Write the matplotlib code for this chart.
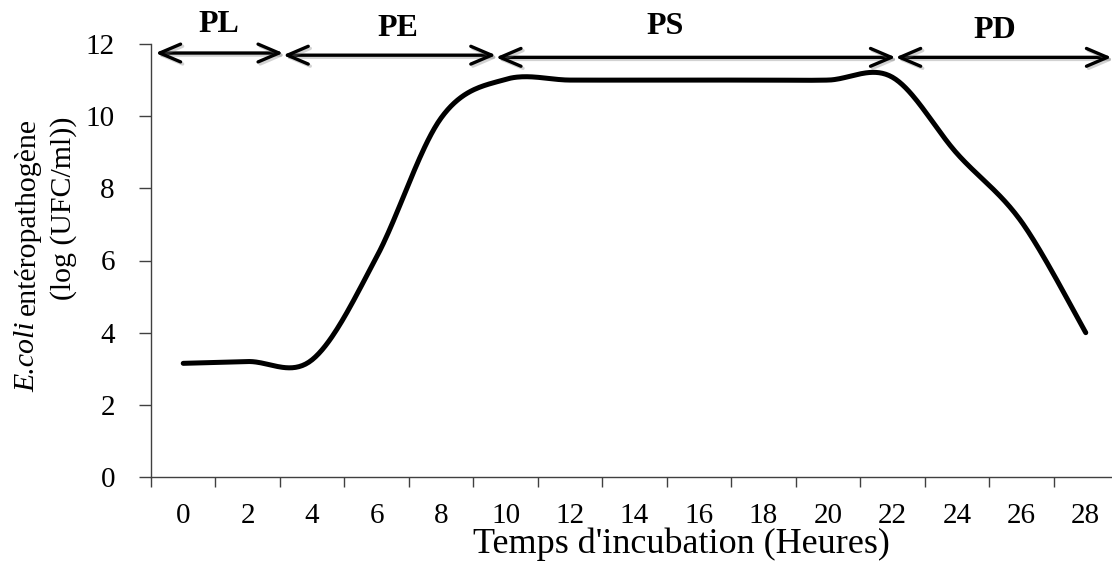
import numpy as np
import matplotlib
matplotlib.use("Agg")
import matplotlib.pyplot as plt
import matplotlib.patheffects as pe

# E. coli growth curve (log UFC/ml) read every 2 hours
hours = [0, 2, 4, 6, 8, 10, 12, 14, 16, 18, 20, 22, 24, 26, 28]
log_ufc = [3.15, 3.2, 3.25, 6.1, 9.95, 11.02, 11.0, 11.0, 11.0, 11.0, 11.0, 11.08, 8.97, 7.08, 4.0]

# growth phases: name, start/end (hours) of the double arrows
phase_names = ["PL", "PE", "PS", "PD"]
phase_bounds = [-0.86, 3.1, 9.7, 22.1, 28.8]

y_ticks = [0, 2, 4, 6, 8, 10, 12]

plt.rcParams["font.family"] = ["Liberation Serif", "DejaVu Serif"]


def catmull_rom(xs, ys, n=40):
	"""Excel-like smoothed line (Bezier with 1/6 control points)."""
	p = np.column_stack([xs, ys]).astype(float)
	p = np.vstack([p[0], p, p[-1]])
	out = []
	t = np.linspace(0, 1, n)[:, None]
	for i in range(1, len(p) - 2):
		p0, p1, p2, p3 = p[i - 1], p[i], p[i + 1], p[i + 2]
		c1 = p1 + (p2 - p0) / 6
		c2 = p2 - (p3 - p1) / 6
		seg = ((1 - t) ** 3) * p1 + 3 * ((1 - t) ** 2) * t * c1 + 3 * (1 - t) * t ** 2 * c2 + t ** 3 * p2
		out.append(seg)
	out = np.vstack(out)
	return out[:, 0], out[:, 1]


W, H = 1112, 563
fig = plt.figure(figsize=(W / 100, H / 100), dpi=100)
ax = fig.add_axes([151 / W, 86 / H, 967 / W, 433 / H])

cats = np.arange(len(hours))
sx, sy = catmull_rom(cats, log_ufc)
ax.plot(sx, sy, color="black", lw=3.6, solid_capstyle="round", zorder=3)

ax.set_xlim(-0.5, len(hours) - 0.5)
ax.set_ylim(0, 12)
ax.set_yticks(y_ticks)
ax.set_xticks(cats)
ax.set_xticklabels([str(h) for h in hours])
ax.set_xticks(np.arange(-0.5, len(hours), 1), minor=True)
ax.tick_params(axis="x", which="major", length=0, labelsize=21, pad=19)
ax.tick_params(axis="x", which="minor", length=7, width=1, color="#404040")
ax.tick_params(axis="y", length=9, width=1, color="#404040", labelsize=21, pad=17)

for side in ["top", "right"]:
	ax.spines[side].set_visible(False)
for side in ["left", "bottom"]:
	ax.spines[side].set_color("#404040")
	ax.spines[side].set_linewidth(1)

ax.set_xlabel("Temps d'incubation (Heures)", fontsize=26)
ax.xaxis.label.set_va("baseline")
ax.xaxis.set_label_coords(0.549, -(553 - 477) / 433)

# y label on two lines, "E.coli" in italics
split = 1 - 322 / H
fig.text(27 / W, split, "E.coli", rotation=90, ha="center", va="top",
	fontsize=21.5, style="italic")
fig.text(27 / W, split + 7 / H, "entéropathogène", rotation=90, ha="center", va="bottom",
	fontsize=21.5)
fig.text(64 / W, 1 - 208 / H, "(log (UFC/ml))", rotation=90,
	ha="center", va="center", fontsize=21.5)

# phase arrows and labels
arrow_y = [11.75, 11.69, 11.63, 11.63]
label_x = [219, 398, 665, 995]
label_y = [25, 28, 27, 30]
shadow = [pe.SimpleLineShadow(offset=(1.5, -1.5), shadow_color="gray", alpha=0.35), pe.Normal()]
for i, name in enumerate(phase_names):
	x0 = phase_bounds[i] / 2
	x1 = phase_bounds[i + 1] / 2
	ann = ax.annotate("", xy=(x0, arrow_y[i]), xytext=(x1, arrow_y[i]),
		arrowprops=dict(arrowstyle="<->,head_length=0.75,head_width=0.32",
			color="black", lw=2.4, shrinkA=0, shrinkB=0, mutation_scale=20),
		annotation_clip=False, zorder=4)
	ann.arrow_patch.set_path_effects(shadow)
	fig.text(label_x[i] / W, 1 - label_y[i] / H, name, ha="center", va="center",
		fontsize=23, fontweight="bold")

fig.savefig("out.png", dpi=100)
